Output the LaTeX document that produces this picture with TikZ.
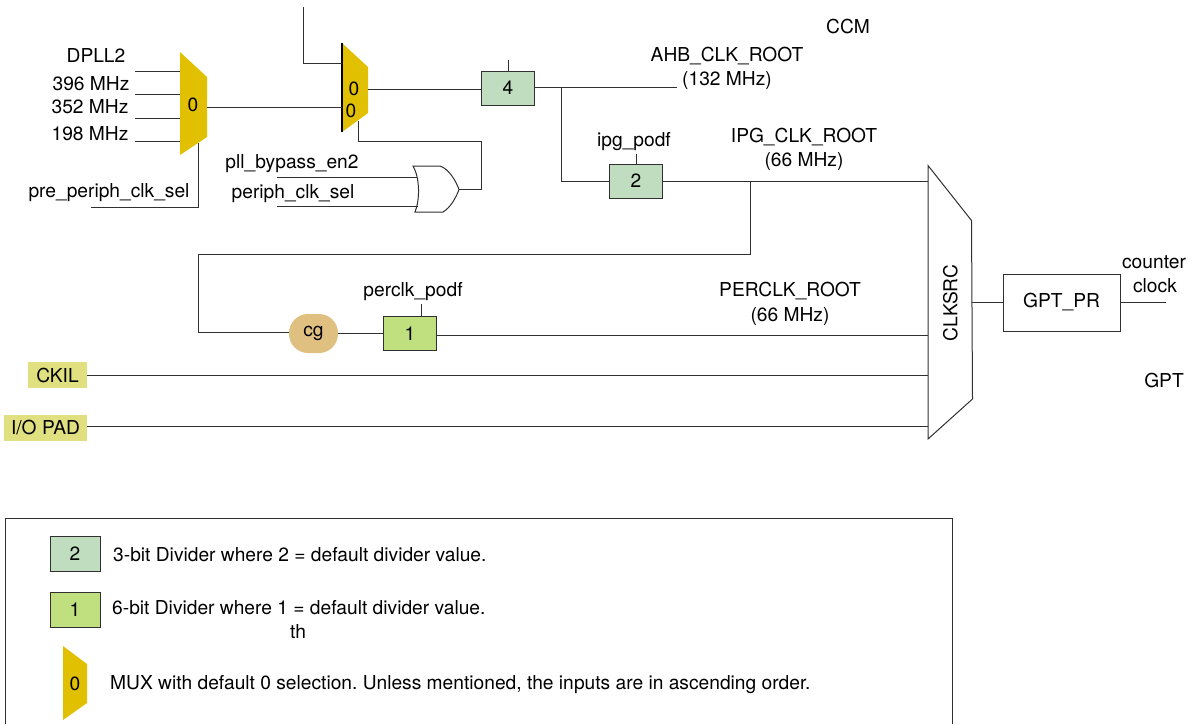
\documentclass[tikz,border=0pt]{standalone}
\usepackage{fontspec}
\setmainfont{TeX Gyre Heros}
\usetikzlibrary{positioning}
\definecolor{muxgold}{HTML}{E0C000}
\definecolor{divthree}{HTML}{C0DDC0}
\definecolor{divsix}{HTML}{C0E080}
\definecolor{cgtan}{HTML}{E0C080}
\definecolor{padyellow}{HTML}{E0E080}
\definecolor{wirecol}{HTML}{303030}
\frenchspacing
\tikzset{
  wire/.style={draw=wirecol,line width=1pt},
  lbl/.style={inner sep=0pt,text height=14.8pt,text depth=0pt,font=\fontsize{19.2}{22}\selectfont},
  divbox/.style={draw=wirecol,line width=1pt,inner sep=0pt,minimum width=53pt,minimum height=34pt,font=\fontsize{19.2}{22}\selectfont},
  padbox/.style={fill=padyellow,inner sep=0pt,minimum height=26pt,font=\fontsize{19.2}{22}\selectfont},
  muxbody/.style={fill=muxgold,draw=none}
}
\begin{document}
\begin{tikzpicture}[x=1pt,y=-1pt]
\useasboundingbox (0,0) rectangle (1193,724);
% first mux
\fill[muxbody] (180,52) -- (207,77) -- (207,137) -- (180,155) -- cycle;
\coordinate (m0a) at (180,71);
\coordinate (m0b) at (180,94);
\coordinate (m0c) at (180,118);
\coordinate (m0d) at (180,141);
\coordinate (m0out) at (207,107);
\coordinate (m0sel) at (198.5,143);
\coordinate (i0a) at (135,71);
\coordinate (i0b) at (135,94);
\coordinate (i0c) at (135,118);
\coordinate (i0d) at (135,141);
\coordinate (i0sel) at (91,207.5);
\node[lbl] (tm0) at (193,104) {0};
\node[lbl] (tdpll) at (96,55) {DPLL2};
\node[lbl] (t396) at (91,83) {396 MHz};
\node[lbl] (t352) at (90,106) {352 MHz};
\node[lbl] (t198) at (90,133) {198 MHz};
\node[lbl] (tpre) at (109,190.5) {pre\_periph\_clk\_sel};
% second mux
\fill[muxbody] (342,43) -- (368,67) -- (368,113) -- (342,132) -- cycle;
\draw[draw=black,line width=1.3pt] (342,42.5) -- (342,132);
\coordinate (m1top) at (342,63);
\coordinate (m1in) at (342,107);
\coordinate (m1out) at (368,89);
\coordinate (m1sel) at (358.5,121);
\coordinate (i1top) at (303,7);
\node[lbl] (tm1a) at (354,88) {0};
\node[lbl] (tm1b) at (351,110) {0};
% or gate
\draw[wire,fill=white] (413,166) -- (440,166) .. controls (449,169) and (456,181) .. (459,189.5)
  .. controls (456,198) and (450,208) .. (443,212) -- (415,212) .. controls (420,200) and (420,178) .. (413,166) -- cycle;
\coordinate (orout) at (459,189.5);
\coordinate (orina) at (417,177);
\coordinate (orinb) at (418,206);
\coordinate (iora) at (277,177);
\coordinate (iorb) at (277,206);
\node[lbl] (tbyp) at (292,161) {pll\_bypass\_en2};
\node[lbl] (tper) at (293,191) {periph\_clk\_sel};
% dividers
\node[divbox,fill=divthree] (d4) at (508,88) {4};
\node[divbox,fill=divthree] (d2) at (636,181) {2};
\node[divbox,fill=divsix] (d1) at (410,333.5) {1};
\node[fill=cgtan,rounded corners=19pt,inner sep=0pt,minimum width=49pt,minimum height=39pt,font=\fontsize{19.2}{22}\selectfont] (cg) at (313.5,333.5) {\raisebox{3pt}{cg}};
\coordinate (s4) at (508,60);
\coordinate (s2) at (636,154);
\coordinate (s1) at (421,304);
\coordinate (s1b) at (421,316.5);
\coordinate (ahb) at (677,87);
\coordinate (j1) at (561,87);
\coordinate (j2) at (750,181);
\node[lbl] (tahb) at (727,54) {AHB\_CLK\_ROOT};
\node[lbl] (tahbf) at (727,78) {(132 MHz)};
\node[lbl] (tipgp) at (634,139) {ipg\_podf};
\node[lbl] (tipg) at (804,135) {IPG\_CLK\_ROOT};
\node[lbl] (tipgf) at (804,159) {(66 MHz)};
\node[lbl] (tperp) at (413,289) {perclk\_podf};
\node[lbl] (tperc) at (790,289) {PERCLK\_ROOT};
\node[lbl] (tpercf) at (790,314) {(66 MHz)};
\node[lbl] (tccm) at (848,26) {CCM};
% pads
\node[padbox,minimum width=59pt] (ckil) at (57.5,375) {CKIL};
\node[padbox,minimum width=83pt] (iopad) at (45.5,428) {I/O PAD};
% clock source mux
\draw[wire,fill=white] (928,165.5) -- (971.5,220.5) -- (972.5,399) -- (928,439) -- cycle;
\node[lbl,rotate=90] (tsrc) at (950,303) {CLKSRC};
\coordinate (c0) at (928,181);
\coordinate (c1) at (928,335.5);
\coordinate (c2) at (928,375);
\coordinate (c3) at (928,426);
\coordinate (cout) at (972,302.5);
\node[draw=wirecol,line width=1pt,inner sep=0pt,minimum width=117pt,minimum height=57pt,font=\fontsize{19.2}{22}\selectfont] (pr) at (1061.5,302.5) {GPT\_PR};
\coordinate (prout) at (1166,302.5);
\node[lbl] (tcnt) at (1154,261) {counter};
\node[lbl] (tclk) at (1155,285) {clock};
\node[lbl] (tgpt) at (1164,380) {GPT};
% wires
\draw[wire] (i0a) -- (m0a);
\draw[wire] (i0b) -- (m0b);
\draw[wire] (i0c) -- (m0c);
\draw[wire] (i0d) -- (m0d);
\draw[wire] (m0sel) |- (i0sel);
\draw[wire] (m0out) -- (m1in);
\draw[wire] (i1top) |- (m1top);
\draw[wire] (m1out) -- (d4.west |- m1out);
\draw[wire] (m1sel) -- (358.5,141.5) -| (481.5,189.5) -- (orout);
\draw[wire] (iora) -- (orina);
\draw[wire] (iorb) -- (orinb);
\draw[wire] (s4) -- (d4.north);
\draw[wire] (s2) -- (d2.north);
\draw[wire] (s1) -- (s1b);
\draw[wire] (d4.east |- ahb) -- (ahb);
\draw[wire] (j1) |- (d2.west);
\draw[wire] (d2.east) -- (c0);
\draw[wire] (j2) -- (750,254) -| (198.5,332) -- (cg.west |- 0,332);
\draw[wire] (cg.east) -- (d1.west);
\draw[wire] (d1.east |- c1) -- (c1);
\draw[wire] (ckil.east) -- (c2);
\draw[wire] (iopad.east |- c3) -- (c3);
\draw[wire] (cout) -- (pr.west);
\draw[wire] (pr.east) -- (prout);
% legend
\draw[wire] (5.5,724) -- (5.5,518) -- (952,518) -- (952,724);
\node[divbox,fill=divthree,minimum width=50pt,minimum height=35pt] (l2) at (75,553.5) {2};
\node[divbox,fill=divsix,minimum width=50pt,minimum height=35pt] (l1) at (75,609.5) {1};
\fill[muxbody] (63,646) -- (87,664) -- (87,703) -- (63,720) -- cycle;
\node[lbl] (lm) at (75,683) {0};
\node[lbl,anchor=west] (tl2) at (113,554) {3-bit Divider where 2 = default divider value.};
\node[lbl,anchor=west] (tl1) at (112,607) {6-bit Divider where 1 = default divider value.};
\node[lbl] (tth) at (298,631) {th};
\node[lbl,anchor=west] (tlm) at (110,682) {MUX with default 0 selection. Unless mentioned, the inputs are in ascending order.};
\end{tikzpicture}
\end{document}
